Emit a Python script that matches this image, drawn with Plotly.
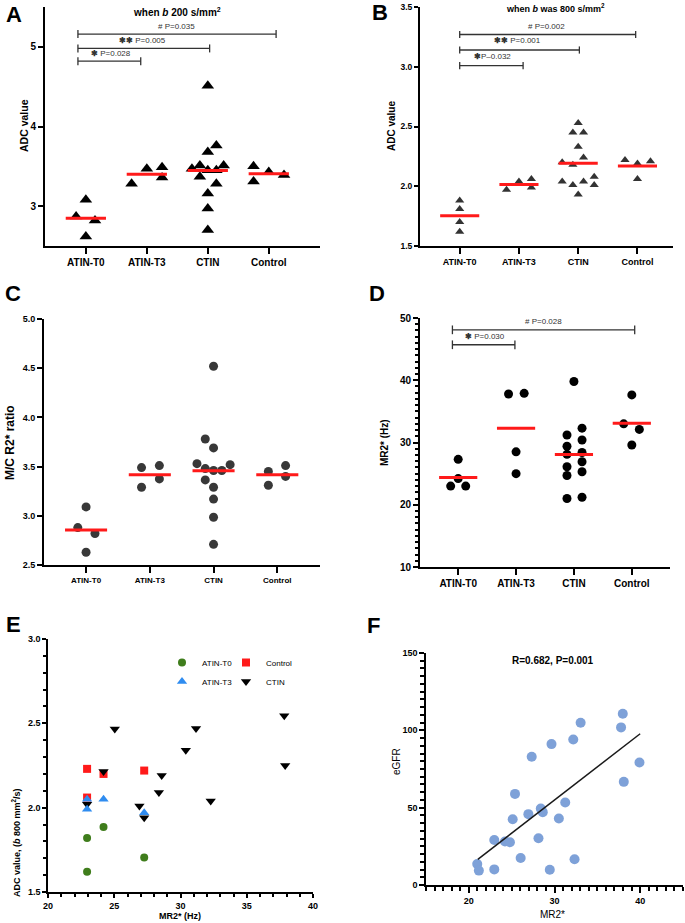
import numpy as np
import plotly.graph_objects as go

W, H = 685, 923
FONT = "Arial, Liberation Sans, sans-serif"

cats = ["ATIN-T0", "ATIN-T3", "CTIN", "Control"]

# A: ADC at b=200 (values per group), with horizontal jitter in category units
adc200 = [
    [3.08, 2.87, 2.82, 2.62],
    [3.28, 3.47, 3.49, 3.36],
    [4.51, 3.76, 3.68, 3.47, 3.51, 3.45, 3.45, 3.51, 3.37, 3.28, 3.16, 2.97, 2.70],
    [3.50, 3.31, 3.43, 3.39],
]
adc200_jit = [
    [0, -0.16, 0.15, 0],
    [-0.25, 0, 0.25, 0.25],
    [0, 0.14, 0, -0.26, -0.13, 0, 0.14, 0.26, -0.13, 0.14, 0, 0, 0],
    [-0.25, -0.25, 0, 0.25],
]

# B: ADC at b=800
adc800 = [
    [1.88, 1.81, 1.70, 1.62],
    [1.97, 2.04, 2.06, 1.99],
    [2.53, 2.45, 2.45, 2.33, 2.24, 2.20, 2.18, 2.04, 2.01, 2.04, 2.08, 2.01, 1.93],
    [2.22, 2.19, 2.21, 2.06],
]
adc800_jit = [
    [0, 0, 0, 0],
    [-0.21, 0, 0.21, 0.21],
    [0, -0.09, 0.09, 0, 0.09, -0.27, -0.09, -0.27, -0.09, 0.09, 0.27, 0.27, 0],
    [-0.21, 0, 0.22, 0],
]

# C: M/C R2* ratio
mc_ratio = [
    [3.09, 2.88, 2.82, 2.63],
    [3.29, 3.49, 3.51, 3.375],
    [4.52, 3.78, 3.69, 3.53, 3.48, 3.46, 3.46, 3.52, 3.365, 3.29, 3.17, 2.985, 2.71],
    [3.45, 3.31, 3.51, 3.40],
]
mc_ratio_jit = [
    [0, -0.13, 0.14, 0],
    [-0.13, -0.13, 0.15, 0.15],
    [0, -0.13, 0, -0.26, -0.13, 0, 0.13, 0.26, -0.13, 0, 0, 0, 0],
    [-0.14, -0.14, 0.13, 0.13],
]

# D: MR2* (Hz)
mr2 = [
    [27.3, 24.2, 23.0, 23.0],
    [37.8, 37.9, 28.5, 25.0],
    [39.8, 31.2, 32.3, 29.4, 30.4, 28.1, 28.4, 26.1, 26.9, 24.7, 25.3, 21.0, 21.2],
    [37.65, 33.0, 32.1, 29.6],
]
mr2_jit = [
    [0, 0, -0.13, 0.13],
    [-0.13, 0.14, 0, 0],
    [0, -0.12, 0.14, -0.12, 0.14, -0.12, 0.14, -0.12, 0.14, -0.12, 0.14, -0.12, 0.14],
    [0, -0.14, 0.13, 0],
]

# E: ADC (b 800) vs MR2*
e_t0_x = [22.95, 22.95, 24.19, 27.26]
e_t0_y = [1.62, 1.82, 1.885, 1.705]
e_t3_x = [22.95, 22.95, 24.19, 27.26]
e_t3_y = [2.05, 1.99, 2.05, 1.97]
e_ctl_x = [22.95, 22.95, 24.19, 27.26]
e_ctl_y = [2.23, 2.06, 2.20, 2.22]
e_ctin_x = [22.95, 24.19, 25.04, 26.9, 27.26, 28.37, 28.58, 30.4, 31.17, 32.28, 37.83, 37.9]
e_ctin_y = [2.02, 2.215, 2.466, 2.01, 1.94, 2.09, 2.19, 2.34, 2.47, 2.04, 2.545, 2.25]

# F: eGFR vs MR2*
f_x = [20.98, 21.17, 22.97, 22.97, 24.22, 24.8, 25.12, 25.39, 26.05, 26.95, 27.34, 28.13,
       28.4, 28.63, 29.45, 29.65, 30.51, 31.25, 32.19, 32.34, 33.05, 37.77, 37.97, 38.09, 39.92]
f_y = [13.6, 9.3, 29.1, 10.1, 28.1, 27.6, 42.5, 58.9, 17.5, 45.8, 82.9, 30.2,
       49.4, 47.1, 9.9, 91.1, 43.0, 53.3, 94.1, 16.6, 104.9, 101.9, 110.7, 66.7, 79.2]
fit_x = [21.05, 40.0]
fit_y = [16.6, 97.8]

fig = go.Figure()
layout = {}
annotations = []


def px_x(p):
    return p / W


def px_y(p):
    return 1 - p / H


def axes(i, box, xrange, yrange, lw=2, xkw=None, ykw=None):
    x0, y0, x1, y1 = box
    sfx = "" if i == 1 else str(i)
    base = dict(showline=True, linecolor="black", linewidth=lw, ticks="outside",
                tickcolor="black", tickwidth=lw, showgrid=False, zeroline=False,
                automargin=False, tickfont=dict(family=FONT, size=9, color="black", weight="bold"))
    xa = dict(base, domain=[px_x(x0), px_x(x1)], range=xrange, anchor="y" + sfx, ticklen=6)
    ya = dict(base, domain=[px_y(y1), px_y(y0)], range=yrange, anchor="x" + sfx, ticklen=5)
    xa.update(xkw or {})
    ya.update(ykw or {})
    layout["xaxis" + sfx] = xa
    layout["yaxis" + sfx] = ya
    return "x" + sfx, "y" + sfx


def dotplot(xr, yr, groups, jitter, symbol, size, color, half=0.33):
    for g, (vals, jit) in enumerate(zip(groups, jitter)):
        fig.add_trace(go.Scatter(
            x=[g + j for j in jit], y=vals, mode="markers", xaxis=xr, yaxis=yr,
            marker=dict(symbol=symbol, size=size, color=color, line=dict(width=0)),
            showlegend=False, hoverinfo="y"))
        m = float(np.mean(vals))
        fig.add_trace(go.Scatter(
            x=[g - half, g + half], y=[m, m], mode="lines", xaxis=xr, yaxis=yr,
            line=dict(color="#ff1a1a", width=3), showlegend=False, hoverinfo="skip"))


def brackets(xr, yr, items, cap):
    for x0, x1, lev, label, tx, ty in items:
        fig.add_trace(go.Scatter(
            x=[x0, x1, None, x0, x0, None, x1, x1],
            y=[lev, lev, None, lev - cap, lev + cap, None, lev - cap, lev + cap],
            mode="lines", xaxis=xr, yaxis=yr, line=dict(color="#333", width=1.3),
            showlegend=False, hoverinfo="skip"))
        annotations.append(dict(x=tx, y=ty, xref=xr, yref=yr, text=label, showarrow=False,
                                xanchor="center", yanchor="middle",
                                font=dict(family=FONT, size=8, color="#333")))


def text(x, y, s, size, bold=True, angle=0, color="black"):
    annotations.append(dict(x=px_x(x), y=px_y(y), xref="paper", yref="paper", text=s,
                            showarrow=False, textangle=angle,
                            xanchor="center", yanchor="middle",
                            font=dict(family=FONT, size=size, color=color,
                                      weight="bold" if bold else "normal")))


cat_ticks = dict(tickvals=[0, 1, 2, 3], ticktext=cats)

# ---- Panel A
xa, ya = axes(1, (45, 7, 320, 246), [-0.67, 3.84], [2.5, 5.5],
              xkw=dict(cat_ticks, tickfont=dict(family=FONT, size=10, weight="bold")),
              ykw=dict(tickvals=[3, 4, 5], tickfont=dict(family=FONT, size=10, weight="bold")))
dotplot(xa, ya, adc200, adc200_jit, "triangle-up", 11, "black")
brackets(xa, ya, [
    (-0.13, 3.12, 5.16, "# P=0.035", 1.49, 5.26),
    (-0.13, 2.03, 4.98, "<b>✱✱</b> P=0.005", 0.93, 5.08),
    (-0.13, 0.90, 4.82, "<b>✱</b> P=0.028", 0.41, 4.92),
], 0.05)

# ---- Panel B
xb, yb = axes(2, (420, 7, 673, 246), [-0.67, 3.6], [1.5, 3.5],
              xkw=dict(cat_ticks, tickfont=dict(family=FONT, size=9, weight="bold")),
              ykw=dict(dtick=0.5, tick0=1.5, tickformat=".1f", ticklen=4,
                       tickfont=dict(family=FONT, size=8.5, weight="bold")))
dotplot(xb, yb, adc800, adc800_jit, "triangle-up", 8, "#333")
brackets(xb, yb, [
    (0, 2.97, 3.27, "# P=0.002", 1.46, 3.34),
    (0, 2.02, 3.14, "<b>✱✱</b> P=0.001", 0.98, 3.22),
    (0, 1.07, 3.01, "<b>✱</b>P–0.032", 0.56, 3.09),
], 0.03)

# ---- Panel C
xc, yc = axes(3, (44, 319, 320, 565), [-0.66, 3.67], [2.5, 5.0],
              xkw=dict(cat_ticks, tickfont=dict(family=FONT, size=8, weight="bold")),
              ykw=dict(dtick=0.5, tick0=2.5, tickformat=".1f",
                       tickfont=dict(family=FONT, size=9, weight="bold")))
dotplot(xc, yc, mc_ratio, mc_ratio_jit, "circle", 9, "#383838")

# ---- Panel D
xd, yd = axes(4, (420, 318, 670, 567), [-0.66, 3.66], [10, 50],
              xkw=dict(cat_ticks, tickfont=dict(family=FONT, size=10, weight="bold")),
              ykw=dict(dtick=10, tickfont=dict(family=FONT, size=10, weight="bold"),
                       minor=dict(dtick=1, ticklen=3, tickcolor="black", ticks="outside")))
dotplot(xd, yd, mr2, mr2_jit, "circle", 9, "black")
brackets(xd, yd, [
    (-0.1, 3.05, 48.1, "# P=0.028", 1.47, 49.4),
    (-0.1, 0.98, 45.7, "<b>✱</b> P=0.030", 0.46, 47.0),
], 0.7)

# ---- Panel E
xe, ye = axes(5, (48, 639, 313, 892), [20, 40], [1.5, 3.0], lw=1.5,
              xkw=dict(dtick=5, ticklen=4,
                       minor=dict(dtick=1, ticklen=3, ticks="outside", tickcolor="black")),
              ykw=dict(dtick=0.5, tick0=1.5, tickformat=".1f", ticklen=4,
                       minor=dict(dtick=0.1, ticklen=3, ticks="outside", tickcolor="black")))
fig.add_trace(go.Scatter(x=e_ctl_x, y=e_ctl_y, mode="markers", name="Control", xaxis=xe, yaxis=ye,
                         legend="legend2", marker=dict(symbol="square", size=8, color="#ff1a1a")))
fig.add_trace(go.Scatter(x=e_ctin_x, y=e_ctin_y, mode="markers", name="CTIN", xaxis=xe, yaxis=ye,
                         legend="legend2", marker=dict(symbol="triangle-down", size=9, color="black")))
fig.add_trace(go.Scatter(x=e_t0_x, y=e_t0_y, mode="markers", name="ATIN-T0", xaxis=xe, yaxis=ye,
                         marker=dict(symbol="circle", size=8, color="#3f7d1c")))
fig.add_trace(go.Scatter(x=e_t3_x, y=e_t3_y, mode="markers", name="ATIN-T3", xaxis=xe, yaxis=ye,
                         marker=dict(symbol="triangle-up", size=9, color="#2f8cf0")))

# ---- Panel F
xf, yf = axes(6, (426, 653, 683, 885), [15, 45], [0, 150], lw=1.5,
              xkw=dict(tickvals=[20, 30, 40],
                       minor=dict(dtick=1, tick0=15, ticklen=4, ticks="outside", tickcolor="black")),
              ykw=dict(dtick=50,
                       minor=dict(dtick=5, ticklen=4, ticks="outside", tickcolor="black")))
fig.add_trace(go.Scatter(x=f_x, y=f_y, mode="markers", xaxis=xf, yaxis=yf, showlegend=False,
                         marker=dict(size=10, color="#7ea1d8")))
fig.add_trace(go.Scatter(x=fit_x, y=fit_y, mode="lines", xaxis=xf, yaxis=yf, showlegend=False,
                         line=dict(color="#1a1a1a", width=1.5)))

# panel letters
for lx, ly, s in [(14, 15, "A"), (380, 13, "B"), (13, 293, "C"), (377, 293, "D"),
                  (13, 624, "E"), (374, 625, "F")]:
    text(lx, ly, s, 22)

# titles
text(177, 12, "when <i>b</i> 200 s/mm<sup>2</sup>", 10)
text(555, 8, "when <i>b</i> was 800 s/mm<sup>2</sup>", 9)
text(553, 660, "R=0.682, P=0.001", 10)

# axis titles
text(24, 126, "ADC value", 10.5, angle=-90)
text(391, 126, "ADC value", 10, angle=-90)
text(10, 443, "M/C R2* ratio", 12, angle=-90)
text(385, 443, "MR2* (Hz)", 10, angle=-90)
text(16, 843, "ADC value, (<i>b</i> 800 mm<sup>2</sup>/s)", 9, angle=-90)
text(180, 916, "MR2* (Hz)", 9)
text(396, 762, "eGFR", 10, bold=False, angle=-90)
text(552, 914, "MR2*", 10, bold=False)

layout.update(
    width=W, height=H, margin=dict(l=0, r=0, t=0, b=0),
    paper_bgcolor="white", plot_bgcolor="white",
    font=dict(family=FONT, color="black"),
    annotations=annotations,
    showlegend=True,
    legend=dict(x=px_x(162), y=px_y(648), xanchor="left", yanchor="top",
                font=dict(family=FONT, size=8), bgcolor="rgba(0,0,0,0)", tracegroupgap=0),
    legend2=dict(x=px_x(226), y=px_y(648), xanchor="left", yanchor="top",
                 font=dict(family=FONT, size=8), bgcolor="rgba(0,0,0,0)", tracegroupgap=0),
)
fig.update_layout(**layout)

fig.write_html("out.html", config={"displayModeBar": False},
               post_script="document.body.style.margin='0';")
